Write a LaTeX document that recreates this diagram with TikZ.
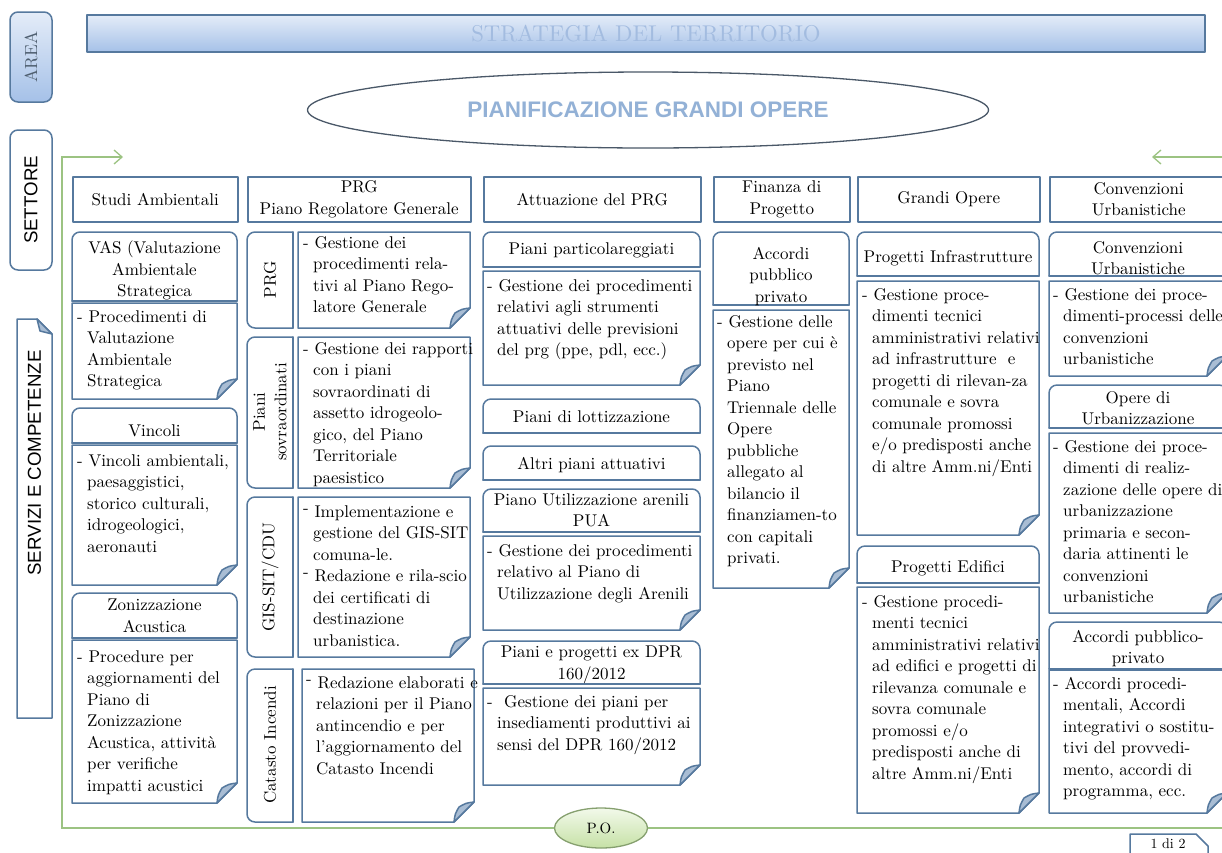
\documentclass[tikz,border=0pt]{standalone}
\usepackage{fontspec}
\setmainfont{lmroman10-regular.otf}[BoldFont=lmroman10-bold.otf,ItalicFont=lmroman10-italic.otf]
\newfontfamily\arialfont{Liberation Sans}
\usetikzlibrary{arrows.meta,shapes.geometric}

\definecolor{boxline}{HTML}{56799E}
\definecolor{foldfill}{HTML}{A9BDD4}
\definecolor{bartop}{HTML}{E4ECF8}
\definecolor{barbot}{HTML}{A5C1E8}
\definecolor{bartext}{HTML}{A3BCE0}
\definecolor{plantext}{HTML}{93B1D6}
\definecolor{planline}{HTML}{4A5868}
\definecolor{poline}{HTML}{9CC382}
\definecolor{poedge}{HTML}{86A06F}
\definecolor{potop}{HTML}{F2F9EA}
\definecolor{pobot}{HTML}{C6E1A6}
\definecolor{areatext}{HTML}{4F5F70}

\newcommand{\bodyfont}{\fontsize{17}{21.5}\selectfont}
\newcommand{\ind}{\hspace*{10pt}}
\newcommand{\bul}{\raisebox{4pt}{-}}

% sheet with a dog-ear in the lower right corner
\newcommand{\foldpage}[4]{%
  \draw[boxdraw] (#1,#2) -- (#3,#2) -- (#3,{#4-20}) -- ({#3-20},#4) -- (#1,#4) -- cycle;
  \filldraw[boxdraw,fill=foldfill] (#3,{#4-20}) -- ({#3-20},#4)
    .. controls ({#3-19},{#4-8}) .. ({#3-15},{#4-15})
    .. controls ({#3-8},{#4-19}) .. (#3,{#4-20}) -- cycle;}
% title box, rounded on top
\newcommand{\roundhead}[4]{%
  \draw[boxdraw,rounded corners=8pt] (#1,#4) -- (#1,#2) -- (#3,#2) -- (#3,#4);
  \draw[boxdraw] (#1,#4) -- (#3,#4);}
% side tab, rounded on the left
\newcommand{\roundtab}[4]{%
  \draw[boxdraw,rounded corners=8pt] (#3,#2) -- (#1,#2) -- (#1,#4) -- (#3,#4);
  \draw[boxdraw] (#3,#2) -- (#3,#4);}

\begin{document}
\begin{tikzpicture}[x=1pt,y=-1pt,
  boxdraw/.style={draw=boxline,line width=1.5pt,line cap=round,line join=round},
  head/.style={boxdraw,rectangle,anchor=north west,minimum height=45pt,inner sep=0pt,align=center,font=\bodyfont},
  hd/.style={anchor=north,inner sep=0pt,align=center,font=\bodyfont},
  txt/.style={anchor=north west,inner sep=0pt,align=left,font=\bodyfont},
  tab/.style={rotate=90,inner sep=0pt,align=center,font=\bodyfont},
  greenline/.style={draw=poline,line width=1.3pt,-{Straight Barb[length=8pt,width=14pt]}}]
\useasboundingbox (0,0) rectangle (1222,852);
\clip (0,0) rectangle (1222,852);
\fill[white] (0,0) rectangle (1222,852);

% left labels
\draw[boxdraw,rounded corners=8pt,top color=bartop,bottom color=barbot] (10,12) rectangle (52,102);
\node[rotate=90,text=areatext,font=\fontsize{17.5}{20}\selectfont] (area) at (31,57) {AREA};
\draw[boxdraw,rounded corners=8pt,fill=white] (10,130) rectangle (52,270);
\node[rotate=90,font=\arialfont\fontsize{18.7}{22}\selectfont] (settore) at (31,200) {SETTORE};
\draw[boxdraw,fill=white] (17,319) -- (37,319) -- (52,334) -- (52,718) -- (17,718) -- cycle;
\filldraw[boxdraw,fill=foldfill] (37,319) -- (52,334) -- (40,331) -- cycle;
\node[rotate=90,font=\arialfont\fontsize{18.7}{22}\selectfont] (servizi) at (34.5,463) {SERVIZI E COMPETENZE};

% area and sector
\node[boxdraw,rectangle,minimum width=1118pt,minimum height=37pt,top color=bartop,bottom color=barbot,
  text=bartext,font=\fontsize{22.8}{26}\selectfont] (strategia) at (646,33.5) {STRATEGIA DEL TERRITORIO};
\node[ellipse,draw=planline,line width=1.3pt,fill=white,minimum width=681pt,minimum height=76pt,
  text=plantext,font=\arialfont\bfseries\fontsize{22.5}{26}\selectfont] (plan) at (648,110) {PIANIFICAZIONE GRANDI OPERE};

% frame round the services
\node[ellipse,draw=poedge,line width=1.3pt,top color=potop,bottom color=pobot,minimum width=93pt,minimum height=40pt,
  font=\fontsize{15}{17}\selectfont] (po) at (601,828) {P.O.};
\coordinate (leftend) at (123,157);
\coordinate (rightend) at (1152,157);
\draw[greenline] (po.west) -- (62,828) -- (62,157) -- (leftend);
\draw[greenline] (po.east) -- (1236,828) -- (1236,157) -- (rightend);

% column titles
\node[head,minimum width=165pt] (studi) at (72,176) {Studi Ambientali};
\node[head,minimum width=223pt] (prg) at (247,176) {PRG\\Piano Regolatore Generale};
\node[head,minimum width=217pt] (attuazione) at (483,176) {Attuazione del PRG};
\node[head,minimum width=136pt] (finanza) at (713,176) {Finanza di\\Progetto};
\node[head,minimum width=182pt] (grandi) at (857,176) {Grandi Opere};
\node[head,minimum width=178pt] (convenzioni) at (1049,176) {Convenzioni\\Urbanistiche};

% Studi Ambientali
\roundhead{72}{232}{237}{301}
\node[hd] (vas) at (154.5,241) {VAS (Valutazione\\Ambientale\\Strategica};
\foldpage{72}{303}{237}{399}
\node[txt] (vastext) at (77,310) {- Procedimenti di\\\ind Valutazione\\\ind Ambientale\\\ind Strategica};
\roundhead{72}{408}{237}{443}
\node[hd] (vincoli) at (154.5,424) {Vincoli};
\foldpage{72}{445}{237}{585}
\node[txt] (vincolitext) at (77,454) {- Vincoli ambientali,\\\ind paesaggistici,\\\ind storico culturali,\\\ind idrogeologici,\\\ind aeronauti};
\roundhead{72}{593}{237}{638}
\node[hd] (zona) at (154.5,599) {Zonizzazione\\Acustica};
\foldpage{72}{640}{237}{803}
\node[txt] (zonatext) at (77,650) {- Procedure per\\\ind aggiornamenti del\\\ind Piano di\\\ind Zonizzazione\\\ind Acustica, attività\\\ind per verifiche\\\ind impatti acustici};

% PRG
\roundtab{247}{232}{293}{328}
\node[tab] (tabprg) at (270,280) {PRG};
\foldpage{298}{232}{470}{328}
\node[txt] (prgtext) at (303,236) {- Gestione dei\\\ind procedimenti rela-\\\ind tivi al Piano Rego-\\\ind latore Generale};
\roundtab{247}{337}{293}{488}
\node[tab] (tabsovra) at (270,412) {Piani\\sovraordinati};
\foldpage{298}{337}{470}{488}
\node[txt] (sovratext) at (303,342) {- Gestione dei rapporti\\\ind con i piani\\\ind sovraordinati di\\\ind assetto idrogeolo-\\\ind gico, del Piano\\\ind Territoriale\\\ind paesistico};
\roundtab{247}{497}{293}{657}
\node[tab] (tabgis) at (270,577) {GIS-SIT/CDU};
\foldpage{298}{497}{470}{657}
\node[txt] (gistext) at (303,505) {\bul\ Implementazione e\\\ind gestione del GIS-SIT\\\ind comuna-le.\\\bul\ Redazione e rila-scio\\\ind dei certificati di\\\ind destinazione\\\ind urbanistica.};
\roundtab{247}{669}{293}{822}
\node[tab] (tabcatasto) at (270,745) {Catasto Incendi};
\foldpage{302}{669}{474}{822}
\node[txt] (catastotext) at (306,676) {\bul\ Redazione elaborati e\\\ind relazioni per il Piano\\\ind antincendio e per\\\ind l’aggiornamento del\\\ind Catasto Incendi};

% Attuazione del PRG
\roundhead{483}{232}{700}{267}
\node[hd] (particolari) at (591.5,242) {Piani particolareggiati};
\foldpage{483}{271}{700}{385}
\node[txt] (particolaritext) at (487,279) {- Gestione dei procedimenti\\\ind relativi agli strumenti\\\ind attuativi delle previsioni\\\ind del prg (ppe, pdl, ecc.)};
\roundhead{483}{399}{700}{433}
\node[hd] (lottizzazione) at (591.5,410) {Piani di lottizzazione};
\roundhead{483}{446}{700}{480}
\node[hd] (altri) at (591.5,457) {Altri piani attuativi};
\roundhead{483}{489}{700}{532}
\node[hd] (pua) at (591.5,493) {Piano Utilizzazione arenili\\PUA};
\foldpage{483}{536}{700}{630}
\node[txt] (puatext) at (487,544) {- Gestione dei procedimenti\\\ind relativo al Piano di\\\ind Utilizzazione degli Arenili};
\roundhead{483}{641}{700}{684}
\node[hd] (dpr) at (591.5,646) {Piani e progetti ex DPR\\160/2012};
\foldpage{483}{688}{700}{785}
\node[txt] (dprtext) at (487,695) {- \ Gestione dei piani per\\\ind insediamenti produttivi ai\\\ind sensi del DPR 160/2012};

% Finanza di Progetto
\roundhead{713}{232}{849}{305}
\node[hd] (accordi) at (781,247) {Accordi\\pubblico\\privato};
\foldpage{713}{310}{849}{588}
\node[txt] (accorditext) at (717,315) {- Gestione delle\\\ind opere per cui è\\\ind previsto nel\\\ind Piano\\\ind Triennale delle\\\ind Opere\\\ind pubbliche\\\ind allegato al\\\ind bilancio il\\\ind finanziamen-to\\\ind con capitali\\\ind privati.};

% Grandi Opere
\roundhead{857}{232}{1039}{276}
\node[hd] (infra) at (948,250) {Progetti Infrastrutture};
\foldpage{857}{281}{1039}{535}
\node[txt] (infratext) at (862,288) {- Gestione proce-\\\ind dimenti tecnici\\\ind amministrativi relativi\\\ind ad infrastrutture\ \ e\\\ind progetti di rilevan-za\\\ind comunale e sovra\\\ind comunale promossi\\\ind e/o predisposti anche\\\ind di altre Amm.ni/Enti};
\roundhead{857}{546}{1039}{583}
\node[hd] (edifici) at (948,560) {Progetti Edifici};
\foldpage{857}{587}{1039}{813}
\node[txt] (edificitext) at (862,595) {- Gestione procedi-\\\ind menti tecnici\\\ind amministrativi relativi\\\ind ad edifici e progetti di\\\ind rilevanza comunale e\\\ind sovra comunale\\\ind promossi e/o\\\ind predisposti anche di\\\ind altre Amm.ni/Enti};

% Convenzioni Urbanistiche
\roundhead{1049}{232}{1227}{276}
\node[hd] (urbanistiche) at (1138,241) {Convenzioni\\Urbanistiche};
\foldpage{1049}{281}{1227}{376}
\node[txt] (urbanistichetext) at (1053,288) {- Gestione dei proce-\\\ind dimenti-processi delle\\\ind convenzioni\\\ind urbanistiche};
\roundhead{1049}{385}{1227}{428}
\node[hd] (opere) at (1138,391) {Opere di\\Urbanizzazione};
\foldpage{1049}{433}{1227}{613}
\node[txt] (operetext) at (1053,440) {- Gestione dei proce-\\\ind dimenti di realiz-\\\ind zazione delle opere di\\\ind urbanizzazione\\\ind primaria e secon-\\\ind daria attinenti le\\\ind convenzioni\\\ind urbanistiche};
\roundhead{1049}{622}{1227}{669}
\node[hd] (pubpriv) at (1138,630) {Accordi pubblico-\\privato};
\foldpage{1049}{670}{1227}{813}
\node[txt] (pubprivtext) at (1053,677) {- Accordi procedi-\\\ind mentali, Accordi\\\ind integrativi o sostitu-\\\ind tivi del provvedi-\\\ind mento, accordi di\\\ind programma, ecc.};

% page number
\draw[boxdraw,fill=white] (1130,834) -- (1196,834) -- (1208,846) -- (1208,870) -- (1130,870) -- cycle;
\node[font=\fontsize{14}{16}\selectfont] (pagina) at (1168,843.5) {1 di 2};
\end{tikzpicture}
\end{document}
